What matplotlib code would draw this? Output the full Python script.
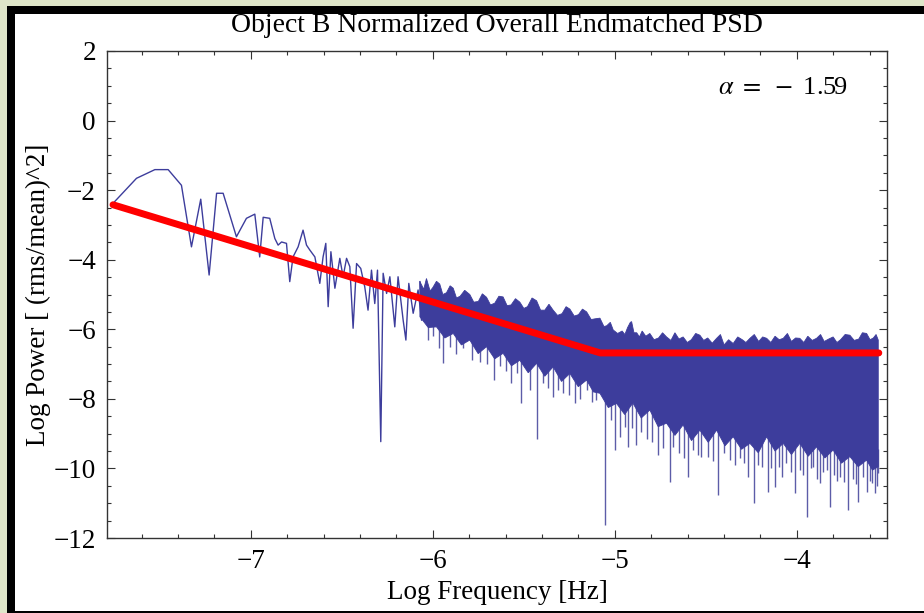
import numpy as np
import matplotlib
matplotlib.use("Agg")
import matplotlib.pyplot as plt
from matplotlib.patches import Rectangle
from matplotlib.ticker import MultipleLocator

plt.rcParams['font.family'] = ['Liberation Serif', 'DejaVu Serif']
plt.rcParams['mathtext.fontset'] = 'stix'

# ---------------- data ----------------
title = "Object B Normalized Overall Endmatched PSD"
xlabel = "Log Frequency [Hz]"
ylabel = "Log Power [ (rms/mean)^2]"
alpha_val = -1.59

# low-frequency part of the spectrum (individual points)
lf_x = [-7.757, -7.628, -7.527, -7.454, -7.381, -7.326, -7.275, -7.229, -7.188, -7.152,
        -7.079, -7.024, -6.978, -6.951, -6.932, -6.896, -6.868, -6.850, -6.831, -6.804,
        -6.786, -6.768, -6.740, -6.713, -6.694, -6.676, -6.648, -6.621, -6.603, -6.588,
        -6.575, -6.560, -6.538, -6.511, -6.493, -6.474, -6.456, -6.438, -6.419, -6.396,
        -6.374, -6.356, -6.337, -6.319, -6.304, -6.286, -6.273, -6.254, -6.236, -6.209,
        -6.191, -6.163, -6.148, -6.132, -6.108, -6.081, -6.062]
lf_y = [-2.38, -1.66, -1.41, -1.41, -1.86, -3.63, -2.26, -4.44, -2.09, -2.09,
        -3.34, -2.81, -2.69, -3.92, -2.78, -2.81, -3.39, -3.58, -3.49, -3.53,
        -4.63, -3.92, -3.63, -3.15, -3.58, -3.72, -3.92, -4.68, -3.92, -3.53,
        -5.35, -3.77, -4.82, -3.96, -4.49, -3.96, -4.20, -5.97, -4.11, -4.25,
        -4.78, -5.45, -4.30, -5.26, -4.30, -9.23, -4.39, -4.97, -4.49, -5.93,
        -4.49, -5.74, -6.31, -4.68, -5.54, -4.87, -5.74]

# dense high-frequency part: upper edge of the band
top_x = [-6.071, -6.050, -6.035, -6.015, -6.000, -5.980, -5.962, -5.945, -5.925, -5.905,
         -5.888, -5.870, -5.850, -5.825, -5.797, -5.775, -5.750, -5.728, -5.705, -5.683,
         -5.660, -5.637, -5.614, -5.592, -5.570, -5.546, -5.522, -5.500, -5.480, -5.455,
         -5.430, -5.408, -5.385, -5.362, -5.339, -5.315, -5.290, -5.268, -5.247, -5.223,
         -5.200, -5.178, -5.155, -5.130, -5.110, -5.082, -5.060, -5.045, -5.025, -5.009,
         -4.985, -4.960, -4.945, -4.930, -4.915, -4.908, -4.895, -4.880, -4.865, -4.850,
         -4.830, -4.808, -4.785, -4.760, -4.738, -4.716, -4.692, -4.670, -4.648, -4.625,
         -4.602, -4.580, -4.556, -4.533, -4.512, -4.490, -4.465, -4.441, -4.420, -4.400,
         -4.375, -4.350, -4.325, -4.300, -4.280, -4.258, -4.234, -4.210, -4.188, -4.166,
         -4.143, -4.120, -4.097, -4.075, -4.052, -4.030, -4.007, -3.984, -3.962, -3.940,
         -3.916, -3.892, -3.870, -3.850, -3.825, -3.801, -3.780, -3.760, -3.735, -3.709,
         -3.685, -3.660, -3.640, -3.617, -3.598, -3.580, -3.565, -3.553]
top_y = [-4.63, -4.85, -4.54, -4.90, -4.80, -4.62, -4.70, -5.00, -4.95, -4.75,
         -4.82, -5.10, -5.05, -4.88, -5.00, -5.22, -5.20, -4.98, -5.08, -5.30,
         -5.25, -5.05, -5.07, -5.32, -5.30, -5.12, -5.22, -5.40, -5.35, -5.10,
         -5.18, -5.45, -5.45, -5.28, -5.45, -5.60, -5.55, -5.35, -5.42, -5.62,
         -5.58, -5.42, -5.50, -5.72, -5.70, -5.68, -5.92, -5.90, -5.80, -6.02,
         -6.12, -6.05, -6.15, -5.95, -5.80, -5.78, -6.10, -6.10, -6.22, -6.05,
         -6.20, -6.12, -6.30, -6.25, -6.10, -6.22, -6.32, -6.10, -6.28, -6.22,
         -6.38, -6.30, -6.12, -6.17, -6.32, -6.25, -6.40, -6.26, -6.15, -6.45,
         -6.30, -6.41, -6.22, -6.30, -6.38, -6.26, -6.15, -6.35, -6.22, -6.26,
         -6.38, -6.20, -6.30, -6.26, -6.12, -6.35, -6.25, -6.26, -6.38, -6.20,
         -6.32, -6.26, -6.15, -6.35, -6.28, -6.22, -6.38, -6.30, -6.15, -6.17,
         -6.32, -6.28, -6.10, -6.12, -6.30, -6.25, -6.15, -6.31]

# dense high-frequency part: lower edge of the solid band
bot_x = [-6.071, -6.025, -5.980, -5.934, -5.888, -5.843, -5.797, -5.751, -5.705, -5.660,
         -5.614, -5.568, -5.522, -5.476, -5.430, -5.385, -5.339, -5.293, -5.247, -5.201,
         -5.155, -5.118, -5.082, -5.036, -4.991, -4.946, -4.901, -4.855, -4.808, -4.762,
         -4.716, -4.670, -4.625, -4.579, -4.533, -4.487, -4.441, -4.395, -4.350, -4.304,
         -4.258, -4.212, -4.166, -4.120, -4.075, -4.030, -3.984, -3.938, -3.892, -3.846,
         -3.801, -3.755, -3.709, -3.663, -3.617, -3.585, -3.553]
bot_y = [-5.64, -5.95, -5.93, -6.25, -6.12, -6.45, -6.31, -6.70, -6.50, -6.85,
         -6.69, -7.05, -6.89, -7.25, -6.98, -7.35, -7.08, -7.50, -7.27, -7.65,
         -7.46, -7.80, -7.84, -8.25, -8.13, -8.45, -8.12, -8.55, -8.32, -8.80,
         -8.70, -9.05, -8.75, -9.20, -8.90, -9.25, -8.90, -9.35, -9.09, -9.45,
         -9.28, -9.55, -9.09, -9.50, -9.28, -9.60, -9.28, -9.65, -9.38, -9.70,
         -9.47, -9.85, -9.66, -9.95, -9.76, -10.05, -9.95]

# downward spikes below the band (minimum values)
spike_x = [-6.026, -6.000, -5.968, -5.943, -5.905, -5.870, -5.834, -5.787, -5.742, -5.700,
           -5.665, -5.630, -5.600, -5.573, -5.540, -5.513, -5.467, -5.430, -5.395, -5.365,
           -5.342, -5.310, -5.284, -5.250, -5.220, -5.190, -5.155, -5.125, -5.101, -5.055,
           -5.020, -5.000, -4.970, -4.945, -4.927, -4.905, -4.885, -4.855, -4.826, -4.795,
           -4.762, -4.735, -4.698, -4.680, -4.650, -4.620, -4.597, -4.570, -4.545, -4.527,
           -4.487, -4.460, -4.432, -4.400, -4.368, -4.340, -4.313, -4.290, -4.268, -4.235,
           -4.214, -4.194, -4.158, -4.140, -4.121, -4.100, -4.084, -4.060, -4.035, -4.011,
           -3.984, -3.965, -3.947, -3.925, -3.910, -3.890, -3.874, -3.855, -3.837, -3.819,
           -3.795, -3.780, -3.764, -3.740, -3.718, -3.690, -3.675, -3.663, -3.636, -3.617,
           -3.600, -3.590, -3.571, -3.560, -3.553]
spike_y = [-6.31, -6.20, -6.55, -6.98, -6.50, -6.70, -6.55, -6.89, -6.93, -7.00,
           -7.46, -7.05, -7.20, -7.55, -7.25, -8.13, -7.75, -9.14, -7.55, -7.70,
           -7.94, -7.75, -7.84, -7.90, -8.13, -8.00, -7.75, -8.10, -8.03, -11.63,
           -8.60, -9.47, -9.09, -8.80, -9.38, -8.85, -9.33, -8.95, -9.14, -9.25,
           -9.61, -9.40, -10.38, -9.38, -9.55, -9.70, -10.24, -9.47, -9.60, -9.66,
           -9.66, -9.80, -10.76, -9.57, -9.76, -9.90, -9.71, -9.85, -10.24, -11.00,
           -9.90, -9.95, -10.67, -10.00, -10.53, -9.95, -10.24, -9.85, -10.10, -10.72,
           -10.05, -10.20, -11.39, -10.00, -9.95, -10.30, -10.43, -10.10, -10.05, -11.10,
           -10.20, -10.35, -10.24, -10.40, -11.20, -10.30, -10.45, -10.96, -10.24, -10.67,
           -10.35, -10.43, -10.72, -10.50, -10.14]

# broken power-law fit
fit_x = [-7.757, -5.08, -3.55]
fit_y = [-2.42, -6.68, -6.68]

xlim = (-7.79, -3.505)
ylim = (-12, 2)
xticks = [-7, -6, -5, -4]
yticks = [-12, -10, -8, -6, -4, -2, 0, 2]

# ---------------- figure ----------------
W, H = 924, 613
fig = plt.figure(figsize=(W / 100, H / 100), dpi=100)
fig.patch.set_facecolor('#dfe6c9')

# black frame and white panel
fig.add_artist(Rectangle((7 / W, -0.1), 2.0, (H - 6) / H + 0.1, transform=fig.transFigure,
                         facecolor='black', edgecolor='none', zorder=-20))
fig.add_artist(Rectangle((15 / W, 2 / H), 2.0, (H - 14 - 2) / H, transform=fig.transFigure,
                         facecolor='white', edgecolor='none', zorder=-19))

ax = fig.add_axes([107 / W, (H - 538) / H, (887 - 107) / W, (538 - 51) / H])
ax.set_facecolor('white')

blue = '#3d3d9c'
# spikes (below band)
spike_base = np.interp(spike_x, bot_x, bot_y) + 0.5
ax.vlines(spike_x, spike_y, spike_base, color='#5c5ca8', lw=1.0, zorder=1)
# dense band
ax.fill(np.r_[top_x, bot_x[::-1]], np.r_[top_y, bot_y[::-1]], color=blue, lw=0.6,
        ec=blue, zorder=2)
# low frequency line
ax.plot(lf_x + [top_x[0]], lf_y + [top_y[0]], color=blue, lw=1.0, zorder=3)
# fit
ax.plot(fit_x, fit_y, color='#ff0000', lw=5, solid_capstyle='round', zorder=4)

ax.text(-4.434, 0.93, r'$\alpha\ =\ -\ $' + f'{abs(alpha_val):.2f}',
        fontsize=19, ha='left', va='center')

ax.set_xlim(*xlim)
ax.set_ylim(*ylim)
ax.set_xticks(xticks)
ax.set_yticks(yticks)
ax.xaxis.set_minor_locator(MultipleLocator(0.2))
ax.yaxis.set_minor_locator(MultipleLocator(0.5))
ax.tick_params(which='both', direction='in', top=True, right=True, width=0.8,
               color='#333333', labelsize=19.5)
ax.tick_params(which='major', length=6, pad=8)
ax.tick_params(which='minor', length=3)
for s in ax.spines.values():
    s.set_color('#333333')
    s.set_linewidth(1.0)

ax.set_title(title, fontsize=20, pad=14)
ax.set_xlabel(xlabel, fontsize=19.5, labelpad=4)
ax.set_ylabel(ylabel, fontsize=19.5, labelpad=2)

fig.savefig('out.png', dpi=100, facecolor=fig.get_facecolor())
